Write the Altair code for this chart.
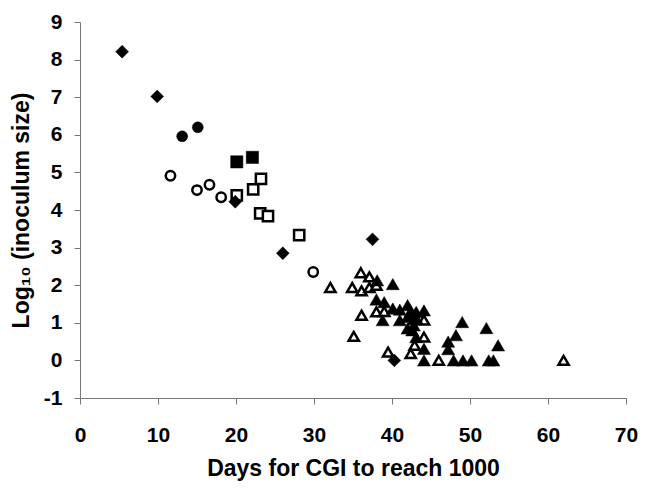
import altair as alt
import pandas as pd

# ---- data ----
filled_diamond_x = [5.4, 9.9, 19.9, 26.0, 37.5, 40.3]
filled_diamond_y = [8.21, 7.02, 4.22, 2.85, 3.22, 0.0]

filled_circle_x = [13.1, 15.1]
filled_circle_y = [5.96, 6.2]

open_circle_x = [11.6, 15.0, 16.6, 18.1, 29.9]
open_circle_y = [4.91, 4.53, 4.67, 4.34, 2.35]

filled_square_x = [20.1, 22.1]
filled_square_y = [5.28, 5.40]

open_square_x = [20.1, 22.2, 23.2, 23.1, 24.1, 28.1]
open_square_y = [4.39, 4.55, 4.83, 3.91, 3.84, 3.33]

open_triangle_x = [32.1, 36.0, 37.1, 34.9, 36.1, 37.1, 38.0, 36.1, 35.1, 44.1,
                   44.1, 42.9, 42.4, 39.5, 46.0, 62.0, 38.0, 39.0]
open_triangle_y = [1.94, 2.33, 2.22, 1.94, 1.85, 1.94, 1.29, 1.20, 0.64, 1.07,
                   0.62, 0.40, 0.18, 0.22, 0.0, 0.0, 2.0, 1.30]

filled_triangle_x = [38.1, 40.1, 38.0, 39.0, 40.1, 41.0, 42.0, 43.1, 44.1, 38.8,
                     41.0, 42.0, 42.8, 42.0, 42.6, 43.1, 44.1, 44.1, 47.2, 47.2,
                     48.2, 49.0, 52.1, 53.6, 47.9, 49.1, 50.2, 52.4, 53.0, 43.2,
                     42.4, 42.8]
filled_triangle_y = [2.13, 2.03, 1.62, 1.55, 1.38, 1.35, 1.47, 1.29, 1.33, 1.07,
                     1.07, 1.16, 0.93, 0.85, 0.80, 0.62, 0.31, 0.0, 0.50, 0.30,
                     0.67, 1.02, 0.86, 0.40, 0.0, 0.0, 0.0, 0.0, 0.0, 1.10,
                     1.30, 1.10]

x_ticks = [0, 10, 20, 30, 40, 50, 60, 70]
y_ticks = [-1, 0, 1, 2, 3, 4, 5, 6, 7, 8, 9]

FONT = "Liberation Sans"

x_scale = alt.Scale(domain=[0, 70], nice=False, zero=False)
y_scale = alt.Scale(domain=[-1, 9], nice=False, zero=False)

x_axis = alt.Axis(values=x_ticks, title="Days for CGI to reach 1000",
                  labelExpr="'' + datum.value", grid=False, labelOverlap=False,
                  tickSize=6, labelPadding=20, titlePadding=12)
y_axis = alt.Axis(values=y_ticks, title="Log₁₀ (inoculum size)",
                  labelExpr="'' + datum.value", grid=False, labelOverlap=False,
                  tickSize=6, labelPadding=12, titlePadding=10)


def layer(xs, ys, shape, filled, size):
    df = pd.DataFrame({"x": xs, "y": ys})
    if filled:
        mk = alt.Chart(df).mark_point(shape=shape, filled=True, fill="black",
                                      stroke="black", strokeWidth=0.5,
                                      size=size, opacity=1)
    else:
        mk = alt.Chart(df).mark_point(shape=shape, filled=True, fill="white",
                                      stroke="black", strokeWidth=2.5,
                                      size=size, opacity=1, fillOpacity=1)
    return mk.encode(x=alt.X("x:Q", scale=x_scale, axis=x_axis),
                     y=alt.Y("y:Q", scale=y_scale, axis=y_axis))


chart = alt.layer(
    layer(open_triangle_x, open_triangle_y, "triangle-up", False, 105),
    layer(filled_triangle_x, filled_triangle_y, "triangle-up", True, 170),
    layer(open_square_x, open_square_y, "square", False, 105),
    layer(filled_square_x, filled_square_y, "square", True, 150),
    layer(open_circle_x, open_circle_y, "circle", False, 88),
    layer(filled_circle_x, filled_circle_y, "circle", True, 120),
    layer(filled_diamond_x, filled_diamond_y, "diamond", True, 165),
).properties(
    width=546, height=376,
    autosize=alt.AutoSizeParams(type="none"),
    padding={"left": 72, "top": 14, "right": 12, "bottom": 84},
    background="white",
).configure_view(strokeWidth=0).configure_axis(
    domainColor="#777777", domainWidth=1, tickColor="#777777", tickWidth=1,
    labelOverlap=False, labelBound=False, labelFlush=False,
    labelFont=FONT, labelFontSize=21, labelFontWeight="bold", labelColor="black",
    titleFont=FONT, titleFontSize=23, titleFontWeight="bold", titleColor="black",
)

chart.save("out.html", embed_options={"renderer": "svg", "actions": False})
